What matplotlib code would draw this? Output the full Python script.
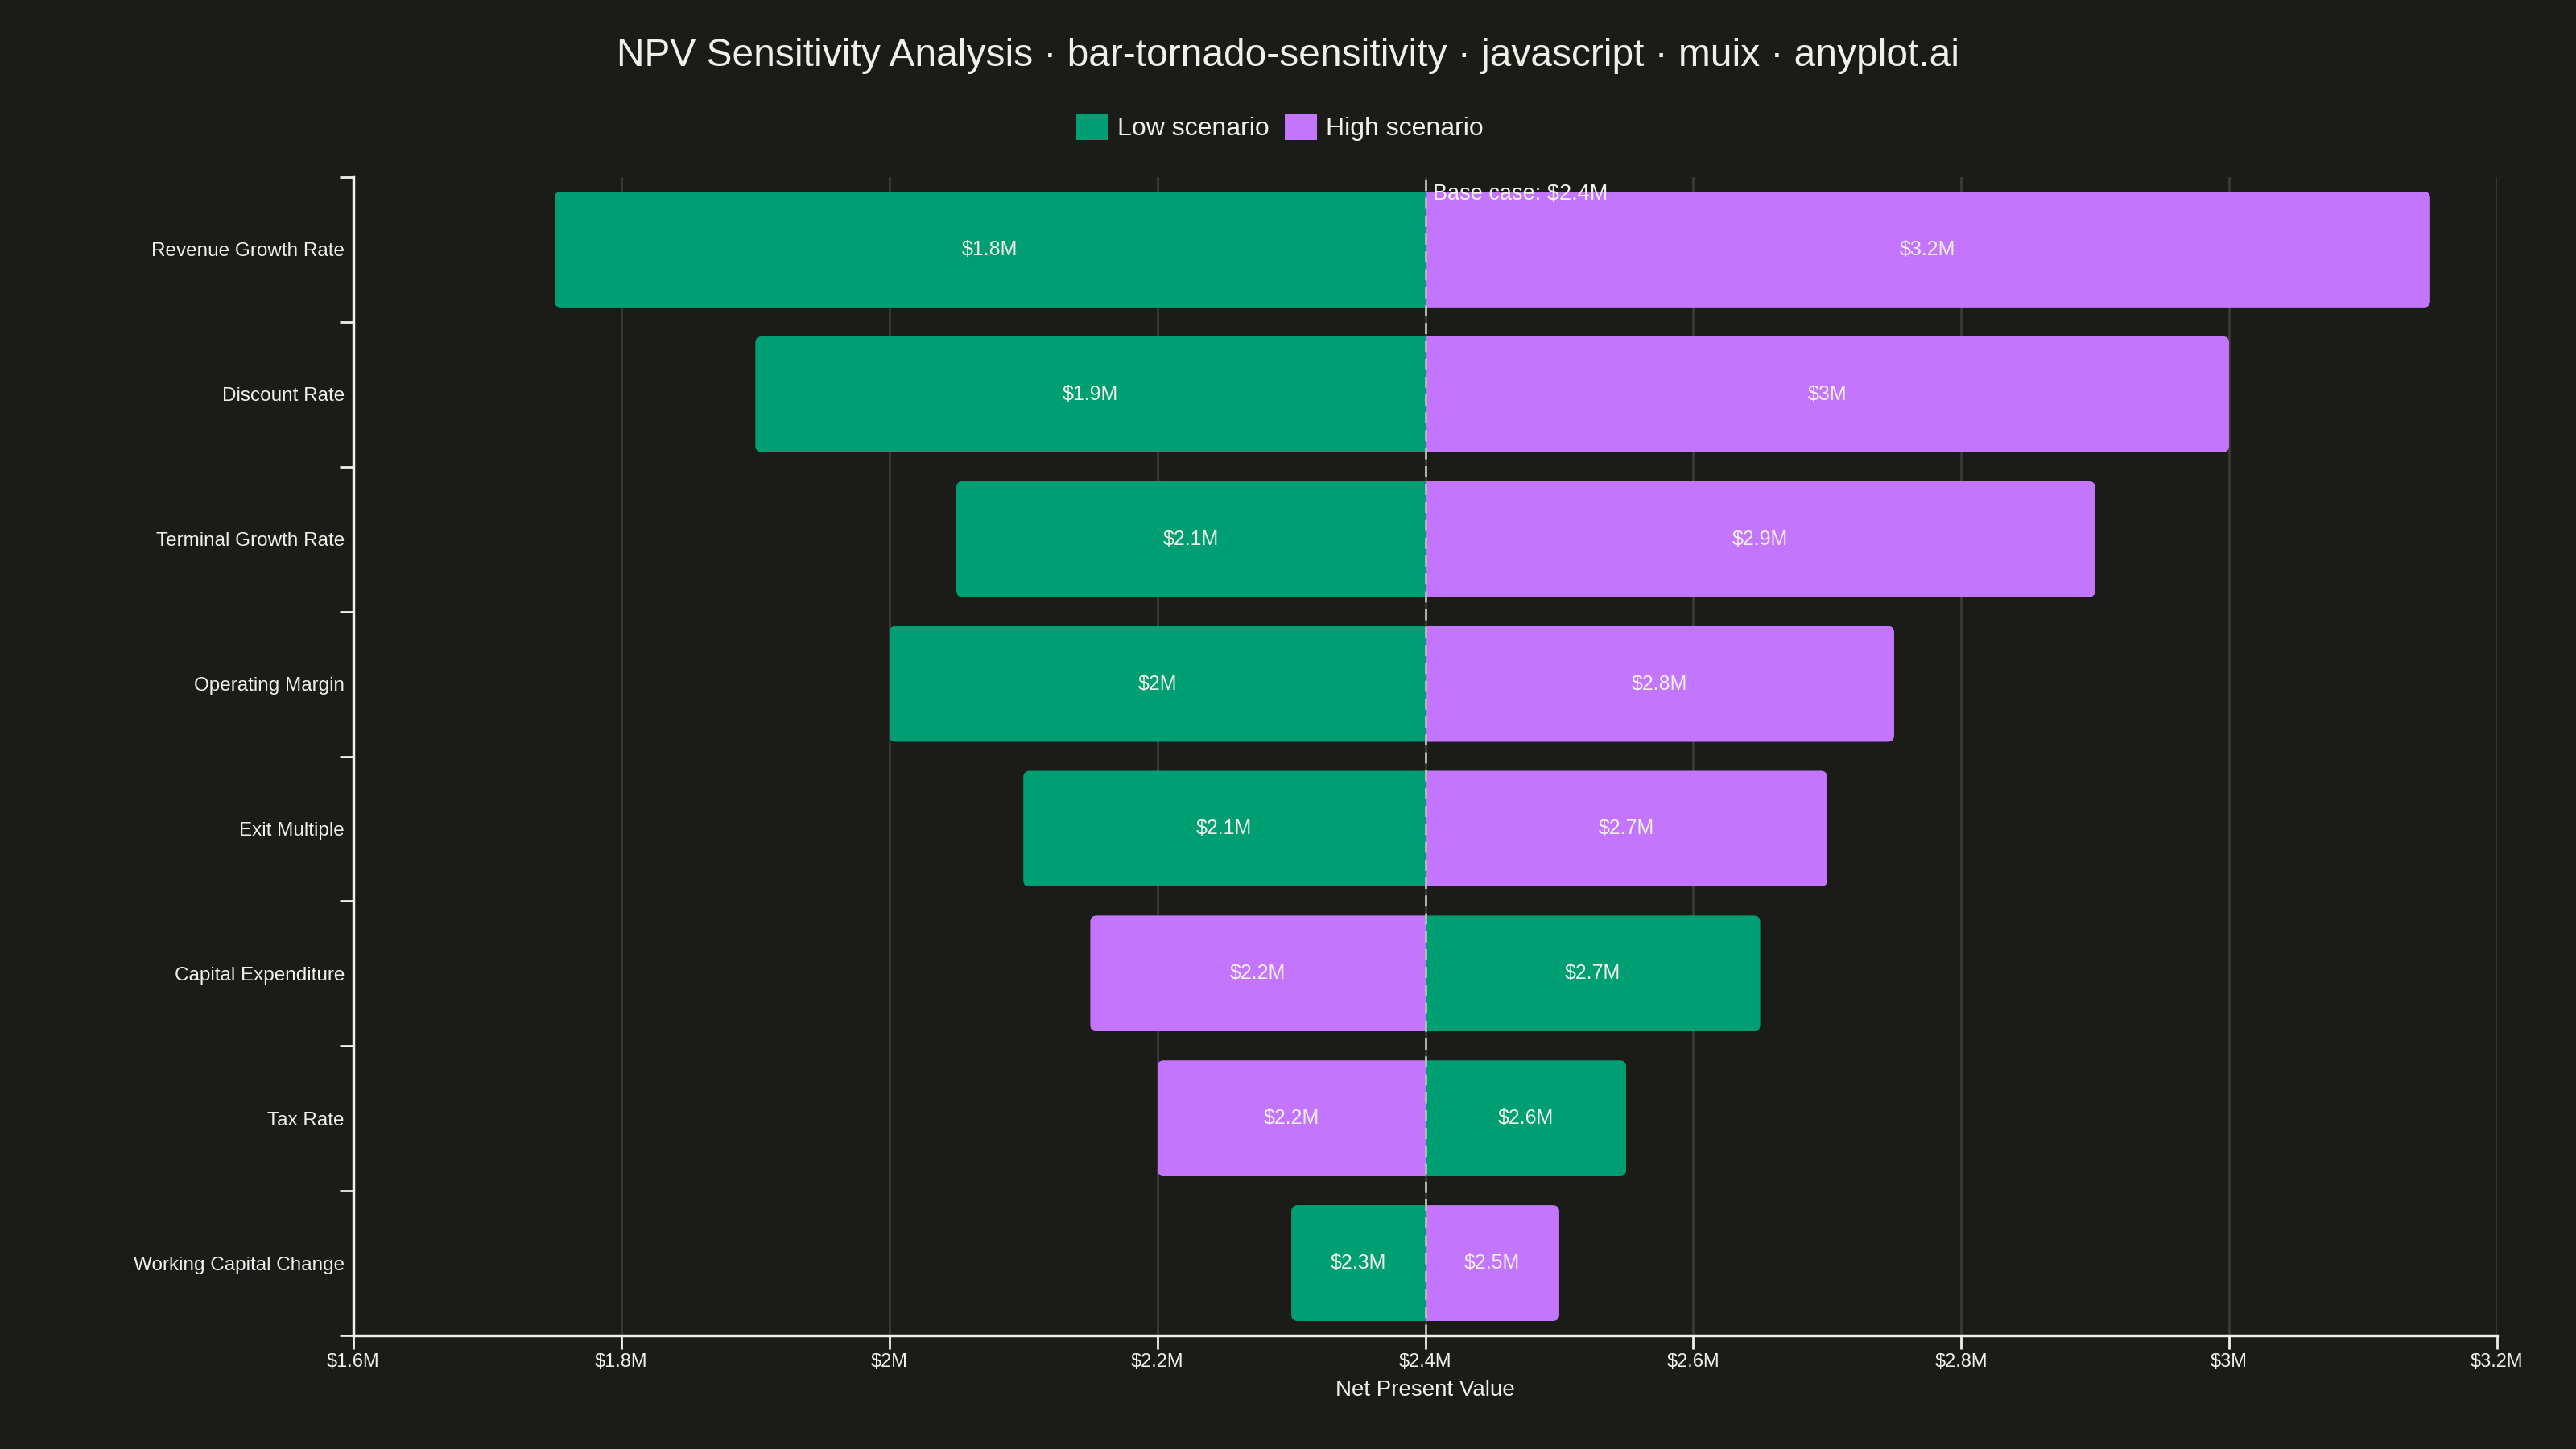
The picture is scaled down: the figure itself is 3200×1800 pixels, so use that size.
import math
import matplotlib
matplotlib.use("Agg")
import matplotlib.pyplot as plt
from matplotlib.ticker import FixedLocator, FuncFormatter
from matplotlib.patches import Patch, FancyBboxPatch

plt.rcParams['font.family'] = ['Liberation Sans', 'DejaVu Sans']

# ---- data ($M) ----
factors = ["Revenue Growth Rate", "Discount Rate", "Terminal Growth Rate", "Operating Margin",
           "Exit Multiple", "Capital Expenditure", "Tax Rate", "Working Capital Change"]
low_values = [1.75, 1.90, 2.05, 2.00, 2.10, 2.65, 2.55, 2.30]
high_values = [3.15, 3.00, 2.90, 2.75, 2.70, 2.15, 2.20, 2.50]
base_value = 2.4
x_ticks = [1.6, 1.8, 2.0, 2.2, 2.4, 2.6, 2.8, 3.0, 3.2]

BG = "#1b1b18"
FG = "#f0efe8"
GREEN = "#009e73"
PURPLE = "#c475fd"
GRID = "#3a3a37"


def fmt_m(v):
    r = math.floor(v * 10 + 0.5 + 1e-9) / 10
    s = f"{r:.1f}"
    if s.endswith(".0"):
        s = s[:-2]
    return f"${s}M"


fig = plt.figure(figsize=(32, 18), dpi=100, facecolor=BG)
ax = fig.add_axes([439 / 3200, 1 - 1659 / 1800, (3102 - 439) / 3200, (1659 - 220) / 1800])
ax.set_facecolor(BG)

ax.set_xlim(1.6, 3.2)
ax.set_ylim(len(factors) - 0.5, -0.5)

y = list(range(len(factors)))
bar_h = 0.8
low_w = [lv - base_value for lv in low_values]
high_w = [hv - base_value for hv in high_values]
bars_low = ax.barh(y, low_w, left=base_value, height=bar_h, color=GREEN, zorder=2)
bars_high = ax.barh(y, high_w, left=base_value, height=bar_h, color=PURPLE, zorder=2)

# round the outer corners of each bar (radius ~8 px)
fig.canvas.draw()
p0 = ax.transData.transform((1.6, 0))
p1 = ax.transData.transform((3.2, 1))
x_per_px = 1.6 / abs(p1[0] - p0[0])
y_per_px = 1.0 / abs(p1[1] - p0[1])
r_px = 8
rs = r_px * x_per_px
asp = y_per_px / x_per_px
for bar in list(bars_low) + list(bars_high):
    x0, w = bar.get_x(), bar.get_width()
    yb, h = bar.get_y(), bar.get_height()
    lo, hi = min(x0, x0 + w), max(x0, x0 + w)
    if w < 0:
        hi += 0.05
    else:
        lo -= 0.05
    clip = FancyBboxPatch((lo, yb), hi - lo, h, boxstyle=f"round,pad=0,rounding_size={rs}",
                          mutation_aspect=asp, transform=ax.transData)
    bar.set_clip_path(clip)

for i in y:
    for v in (low_values[i], high_values[i]):
        ax.text((v + base_value) / 2, i, fmt_m(v), ha="center", va="center",
                color=FG, fontsize=18, zorder=4)

ax.axvline(base_value, color="#bdbdb6", lw=2, ls=(0, (5, 3)), zorder=3)
ax.annotate(f"Base case: {fmt_m(base_value)}", xy=(base_value, 1), xycoords=("data", "axes fraction"),
            xytext=(10, -8), textcoords="offset pixels", ha="left", va="top",
            color=FG, fontsize=19.5, zorder=5)

ax.xaxis.set_major_locator(FixedLocator(x_ticks))
ax.xaxis.set_major_formatter(FuncFormatter(lambda v, p: fmt_m(v)))
ax.grid(axis="x", color=GRID, lw=2, zorder=0)
ax.set_axisbelow(True)

ax.set_yticks(y)
ax.set_yticklabels(factors)
ax.set_yticks([i - 0.5 for i in range(len(factors) + 1)], minor=True)
ax.tick_params(axis="y", which="major", length=0, pad=8, labelsize=17.5, labelcolor=FG)
ax.tick_params(axis="y", which="minor", length=12, width=2, color=FG)
ax.tick_params(axis="x", which="major", length=12, width=2, color=FG, labelsize=17,
               labelcolor=FG, pad=4)

for s in ("top", "right"):
    ax.spines[s].set_visible(False)
for s in ("left", "bottom"):
    ax.spines[s].set_color(FG)
    ax.spines[s].set_linewidth(2.5)

ax.set_xlabel("Net Present Value", color=FG, fontsize=20, labelpad=8)

fig.text(0.5, 1 - 70 / 1800, "NPV Sensitivity Analysis · bar-tornado-sensitivity · javascript · muix · anyplot.ai",
         ha="center", va="center", color=FG, fontsize=34.5)

handles = [Patch(facecolor=GREEN, label="Low scenario"), Patch(facecolor=PURPLE, label="High scenario")]
fig.legend(handles=handles, loc="center", bbox_to_anchor=(0.4968, 1 - 158 / 1800), ncol=2,
           frameon=False, fontsize=23, labelcolor=FG, handlelength=1.25, handleheight=1.25,
           handletextpad=0.35, columnspacing=0.6)

fig.savefig("out.png", dpi=100, facecolor=BG)
